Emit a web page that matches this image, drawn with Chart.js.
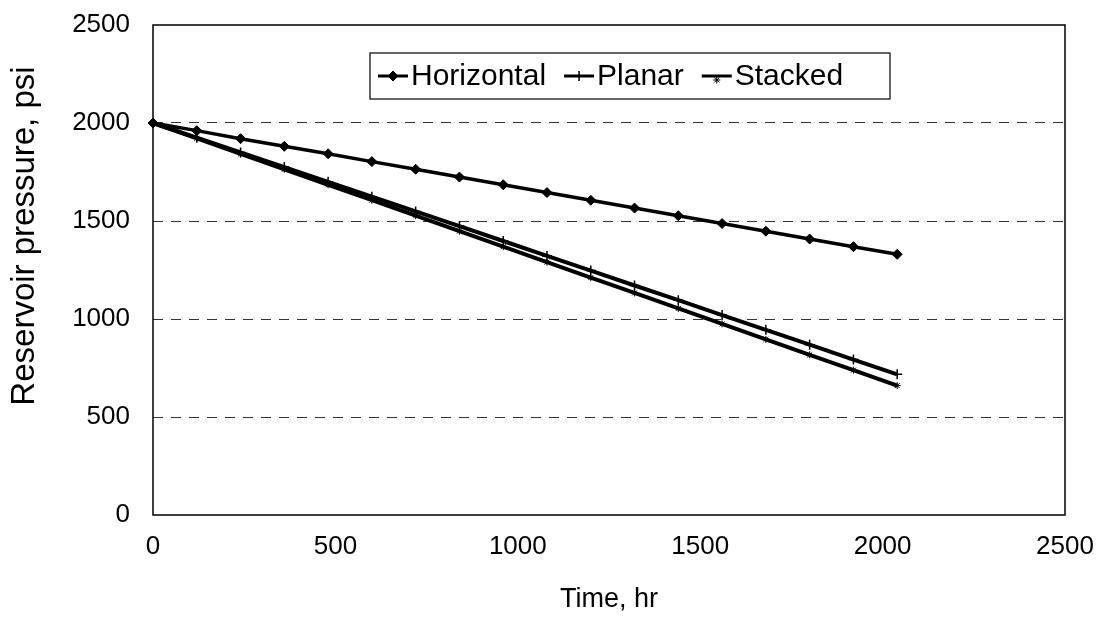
<!DOCTYPE html>
<html>
<head>
<meta charset="utf-8">
<script src="https://cdn.jsdelivr.net/npm/chart.js@4/dist/chart.umd.min.js"></script>
<style>
  html, body { margin: 0; padding: 0; background: #fff; }
  canvas { display: block; }
</style>
</head>
<body>
<canvas id="chart" width="1103" height="619"></canvas>
<script>
// time, hr (one point every 5 days)
const timeHr = [0, 120, 240, 360, 480, 600, 720, 840, 960, 1080, 1200, 1320, 1440, 1560, 1680, 1800, 1920, 2040];
// reservoir pressure, psi
const horizontal = [2000, 1961, 1920, 1881, 1843, 1803, 1764, 1724, 1685, 1645, 1606, 1566, 1527, 1487, 1448, 1408, 1369, 1330];
const planar = [2000, 1925, 1850, 1775, 1700, 1624, 1549, 1474, 1398, 1322, 1247, 1171, 1096, 1020, 945, 869, 793, 718];
const stacked = [2000, 1922, 1843, 1764, 1685, 1606, 1527, 1448, 1369, 1290, 1211, 1133, 1054, 975, 896, 817, 739, 660];
const seriesNames = ["Horizontal", "Planar", "Stacked"];
const xTitle = "Time, hr";
const yTitle = "Reservoir pressure, psi";

const FONT = "'Liberation Sans', Arial, sans-serif";

const toPoints = (ys) => timeHr.map((t, i) => ({ x: t, y: ys[i] }));

// legend sits inside the plot, Excel style
const boxLegend = {
  id: "boxLegend",
  afterDraw(chart) {
    const ctx = chart.ctx;
    const area = chart.chartArea;
    ctx.save();
    // plot frame
    ctx.strokeStyle = "#000";
    ctx.lineWidth = 1.5;
    ctx.strokeRect(area.left, area.top, area.right - area.left, area.bottom - area.top);

    const bx = 370, by = 53, bw = 520, bh = 46;
    ctx.fillStyle = "#fff";
    ctx.fillRect(bx, by, bw, bh);
    ctx.lineWidth = 1.2;
    ctx.strokeRect(bx, by, bw, bh);

    ctx.font = "30px " + FONT;
    ctx.textBaseline = "middle";
    ctx.textAlign = "left";
    const cy = by + bh / 2;
    let x = bx + 8;
    chart.data.datasets.forEach((ds) => {
      ctx.strokeStyle = "#000";
      ctx.fillStyle = "#000";
      ctx.lineWidth = 3;
      ctx.beginPath();
      ctx.moveTo(x, cy);
      ctx.lineTo(x + 30, cy);
      ctx.stroke();
      const py = ds.pointStyle === "star" ? cy + 4 : cy;
      ctx.lineWidth = ds.pointBorderWidth;
      Chart.helpers.drawPoint(ctx, {
        pointStyle: ds.pointStyle,
        radius: ds.pointRadius,
        borderWidth: ds.pointBorderWidth,
        rotation: 0
      }, x + 15, py);
      ctx.fillText(ds.label, x + 33, cy + 1);
      x += 33 + ctx.measureText(ds.label).width + 18;
    });

    // y axis title
    ctx.translate(25, 236);
    ctx.rotate(-Math.PI / 2);
    ctx.font = "33px " + FONT;
    ctx.textAlign = "center";
    ctx.fillText(yTitle, 0, 0);
    ctx.restore();
  }
};

new Chart(document.getElementById("chart"), {
  type: "line",
  data: {
    datasets: [
      {
        label: seriesNames[0],
        data: toPoints(horizontal),
        borderColor: "#000",
        backgroundColor: "#000",
        borderWidth: 3.5,
        pointStyle: "rectRot",
        pointRadius: 5,
        pointBorderWidth: 1,
        pointBackgroundColor: "#000",
        pointBorderColor: "#000"
      },
      {
        label: seriesNames[1],
        data: toPoints(planar),
        borderColor: "#000",
        backgroundColor: "#000",
        borderWidth: 4,
        pointStyle: "cross",
        pointRadius: 5,
        pointBorderWidth: 1.5,
        pointBorderColor: "#000"
      },
      {
        label: seriesNames[2],
        data: toPoints(stacked),
        borderColor: "#000",
        backgroundColor: "#000",
        borderWidth: 4,
        pointStyle: "star",
        pointRadius: 3.5,
        pointBorderWidth: 1,
        pointBorderColor: "#000"
      }
    ]
  },
  plugins: [boxLegend],
  options: {
    responsive: false,
    animation: false,
    clip: false,
    layout: { padding: { left: 0, top: 25, right: 38, bottom: 0 } },
    plugins: {
      legend: { display: false },
      tooltip: { enabled: false }
    },
    elements: { line: { tension: 0 } },
    scales: {
      x: {
        type: "linear",
        min: 0,
        max: 2500,
        ticks: { stepSize: 500, padding: 16, color: "#000", font: { family: FONT, size: 26 }, callback: (v) => String(v) },
        grid: { display: false, drawTicks: false },
        border: { display: false },
        title: { display: true, text: xTitle, color: "#000", font: { family: FONT, size: 27 }, padding: { top: 0, bottom: 3 } },
        afterFit(scale) {
          scale.height = 104;
          scale.paddingLeft = 0;
          scale.paddingRight = 0;
        }
      },
      y: {
        type: "linear",
        min: 0,
        max: 2500,
        ticks: { stepSize: 500, padding: 23, color: "#000", font: { family: FONT, size: 26 }, callback: (v) => String(v) },
        grid: {
          drawTicks: false,
          color: (c) => (c.tick.value === 0 || c.tick.value === 2500 ? "rgba(0,0,0,0)" : "#333"),
          lineWidth: 1
        },
        border: { display: false, dash: [10, 8] },
        afterFit(scale) {
          scale.width = 153;
          scale.paddingTop = 0;
          scale.paddingBottom = 0;
        }
      }
    }
  }
});
</script>
</body>
</html>
